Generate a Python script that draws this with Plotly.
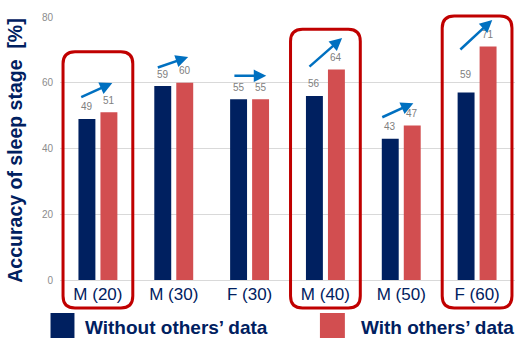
import plotly.graph_objects as go

categories = ["M (20)", "M (30)", "F (30)", "M (40)", "M (50)", "F (60)"]
# bar heights as drawn
without_data = [49, 59, 55, 56, 43, 57]
with_data = [51, 60, 55, 64, 47, 71]
# value labels as printed on the chart
without_labels = [49, 59, 55, 56, 43, 59]
with_labels = [51, 60, 55, 64, 47, 71]
series_names = ["Without others\u2019 data", "With others\u2019 data"]
y_ticks = [0, 20, 40, 60, 80]

# decorative arrows (tail -> head), in category index / value units
arrow_tail_x = [-0.24, 0.77, 1.78, 2.77, 3.73, 4.76]
arrow_tail_y = [55.4, 64.5, 62.1, 64.5, 49.3, 69.7]
arrow_head_x = [0.19, 1.19, 2.22, 3.22, 4.16, 5.20]
arrow_head_y = [59.9, 67.8, 62.1, 73.6, 53.8, 79.1]

# highlighted groups (index, top value of box)
highlight_idx = [0, 3, 5]
highlight_top = [69.4, 76.3, 80.3]

NAVY = "#002060"
RED = "#D24E50"
BOXRED = "#C00000"
ARROW = "#0070C0"
FONT = "Liberation Sans, Arial, sans-serif"

W, H = 518, 338
ML, MR, MT, MB = 59.5, 2.5, 17, 58
PW = W - ML - MR
PH = H - MT - MB

fig = go.Figure()
fig.add_trace(go.Bar(x=categories, y=without_data, name=series_names[0],
                     marker=dict(color=NAVY, line=dict(width=0))))
fig.add_trace(go.Bar(x=categories, y=with_data, name=series_names[1],
                     marker=dict(color=RED, line=dict(width=0))))

n = len(categories)
annotations = []
# value labels
off = 22 / 76 / 2
for i in range(n):
    for v, dx in ((without_labels[i], -off), (with_labels[i], off)):
        annotations.append(dict(x=i + dx, y=v, xref="x", yref="y", text=str(v),
                                showarrow=False, yshift=12, yanchor="middle",
                                font=dict(size=10, color="#808080", family=FONT)))
# arrows
for i in range(n):
    annotations.append(dict(x=arrow_head_x[i], y=arrow_head_y[i],
                            ax=arrow_tail_x[i], ay=arrow_tail_y[i],
                            xref="x", yref="y", axref="x", ayref="y",
                            showarrow=True, arrowhead=2, arrowsize=1,
                            arrowwidth=2.5, arrowcolor=ARROW, text=""))
# y-axis title
annotations.append(dict(x=(15 - ML) / PW, y=0.49, xref="paper", yref="paper",
                        text="Accuracy of sleep stage  [%]", textangle=-90,
                        showarrow=False, xanchor="center", yanchor="middle",
                        font=dict(size=19.5, color=NAVY, family=FONT, weight="bold")))

shapes = []
# custom legend
legend_items = [(50, 74, NAVY, 83, series_names[0]), (320, 345, RED, 359, series_names[1])]
for x0, x1, col, tx, name in legend_items:
    shapes.append(dict(type="rect", xref="paper", yref="paper",
                       x0=(x0 - ML) / PW, x1=(x1 - ML) / PW,
                       y0=(MT + PH - 338) / PH, y1=(MT + PH - 313) / PH,
                       fillcolor=col, line=dict(width=0)))
    annotations.append(dict(x=(tx - ML) / PW, y=(MT + PH - 327) / PH,
                            xref="paper", yref="paper", text=name, showarrow=False,
                            xanchor="left", yanchor="middle",
                            font=dict(size=19, color=NAVY, family=FONT, weight="bold")))

# rounded highlight boxes
rx, ry = 12 / PW, 12 / PH
for idx, top in zip(highlight_idx, highlight_top):
    x0 = (idx + 0.5 - 0.46) / n
    x1 = (idx + 0.5 + 0.46) / n
    y1 = top / 80
    y0 = (MT + PH - 308) / PH
    path = (f"M{x0+rx},{y1} L{x1-rx},{y1} Q{x1},{y1} {x1},{y1-ry} "
            f"L{x1},{y0+ry} Q{x1},{y0} {x1-rx},{y0} L{x0+rx},{y0} "
            f"Q{x0},{y0} {x0},{y0+ry} L{x0},{y1-ry} Q{x0},{y1} {x0+rx},{y1} Z")
    shapes.append(dict(type="path", xref="paper", yref="paper", path=path,
                       line=dict(color=BOXRED, width=3)))

fig.update_layout(
    width=W, height=H,
    margin=dict(l=ML, r=MR, t=MT, b=MB),
    paper_bgcolor="white", plot_bgcolor="white",
    barmode="group", bargap=0.42, bargroupgap=0.23,
    showlegend=False,
    annotations=annotations, shapes=shapes,
    font=dict(family=FONT),
)
fig.update_xaxes(showgrid=False, showline=False, ticks="", ticklabelstandoff=2,
                 tickfont=dict(size=17, color=NAVY, family=FONT))
fig.update_yaxes(range=[0, 80], tickvals=y_ticks, showgrid=True, gridcolor="#D9D9D9",
                 gridwidth=1, zeroline=True, zerolinecolor="#D9D9D9", zerolinewidth=1,
                 showline=False, ticks="", ticklabelstandoff=6,
                 tickfont=dict(size=10, color="#8C8C8C", family=FONT))

fig.write_html("out.html")
